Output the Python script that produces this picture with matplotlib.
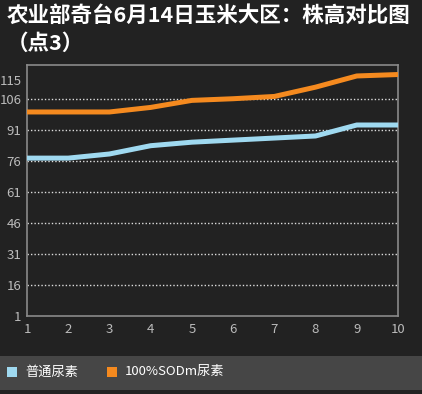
import matplotlib
matplotlib.use("Agg")
import matplotlib.pyplot as plt
from matplotlib.patches import Rectangle

plt.rcParams['font.family'] = ['Noto Sans CJK SC', 'DejaVu Sans']

x = [1, 2, 3, 4, 5, 6, 7, 8, 9, 10]
series_names = ['普通尿素', '100%SODm尿素']
normal = [77.3, 77.3, 79.3, 83.3, 85.0, 86.0, 87.0, 88.0, 93.3, 93.3]
sodm = [99.6, 99.6, 99.6, 101.8, 105.2, 106.0, 107.1, 111.6, 117.0, 117.7]
yticks = [1, 16, 31, 46, 61, 76, 91, 106, 115]
colors = ['#9fd9f0', '#f58a1f']
title = '农业部奇台6月14日玉米大区：株高对比图\n（点3）'

W, H = 422, 394
fig = plt.figure(figsize=(W / 100, H / 100), dpi=100)
fig.patch.set_facecolor('#222222')

ax = fig.add_axes([27 / W, 1 - 316 / H, (398 - 27) / W, (316 - 65) / H])
ax.set_facecolor('#222222')
for xs, ys, c in [(x, normal, colors[0]), (x, sodm, colors[1])]:
    ax.plot(xs, ys, color=c, lw=3.6, solid_joinstyle='round', solid_capstyle='butt', zorder=3)

ax.set_xlim(1, 10)
ax.set_ylim(1, 122.3)
ax.set_xticks(x)
ax.set_xticklabels([str(v) for v in x])
ax.set_yticks(yticks)
ax.set_yticklabels([str(v) for v in yticks])
for v in yticks[1:-1]:
    ax.axhline(v, color='#dddddd', lw=1, ls=(0, (1, 1.5)), zorder=1)
ax.tick_params(colors='#bbbbbb', labelsize=9.5, length=0, pad=5)
ax.tick_params(axis='y', pad=4)
for s in ax.spines.values():
    s.set_color('#8a8a8a')
    s.set_linewidth(1.2)

fig.text(7 / W, 1 - 5 / H, title, color='white', fontsize=15.5, fontweight='bold',
         va='top', ha='left', linespacing=1.4)

# legend band
fig.patches.append(Rectangle((0, 1 - 390 / H), 1, (390 - 356) / H, transform=fig.transFigure,
                             facecolor='#464646', edgecolor='none', zorder=0))
lx = [7, 107]
for i, name in enumerate(series_names):
    fig.patches.append(Rectangle((lx[i] / W, 1 - 377 / H), 10 / W, 10 / H, transform=fig.transFigure,
                                 facecolor=colors[i], edgecolor='none', zorder=2))
    fig.text((lx[i] + 18) / W, 1 - 372 / H, name, color='white', fontsize=9.5, va='center', ha='left')

fig.savefig('out.png', dpi=100, facecolor=fig.get_facecolor())
